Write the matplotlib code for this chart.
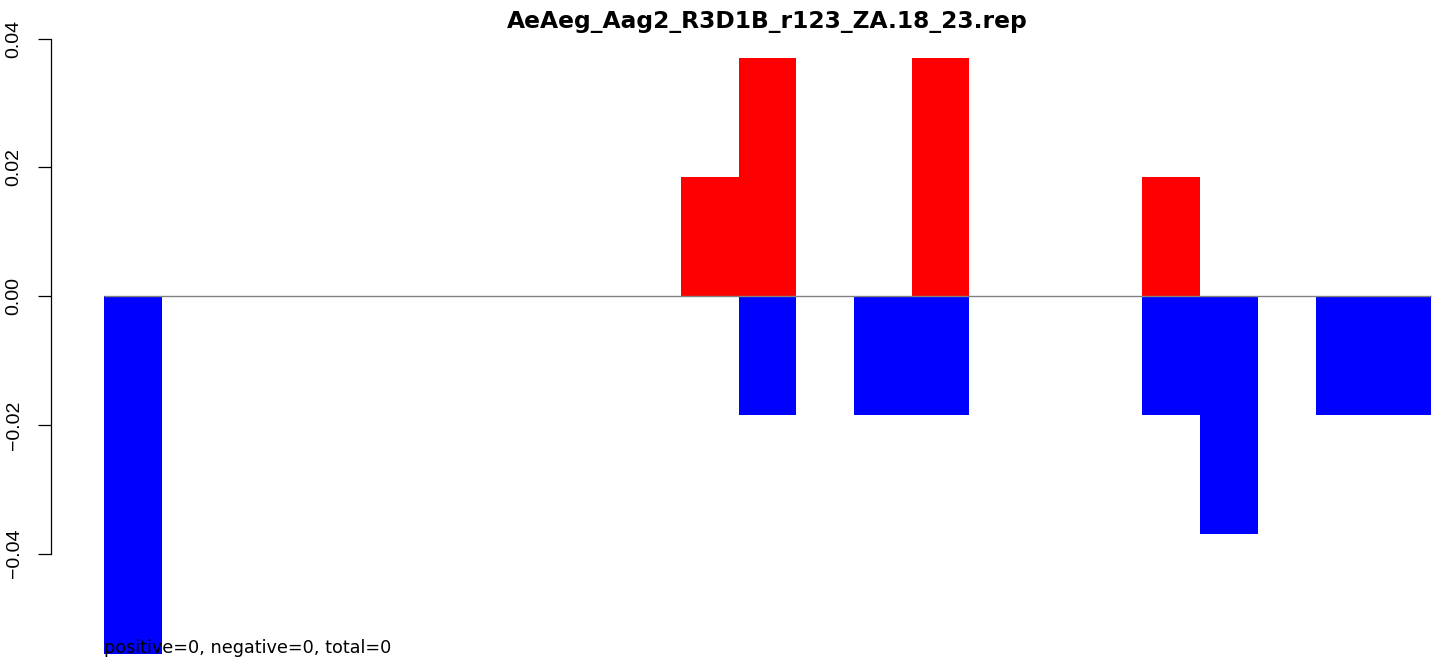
import matplotlib.pyplot as plt
import numpy as np

plt.rcParams['font.family'] = ['Liberation Sans', 'DejaVu Sans']

title = "AeAeg_Aag2_R3D1B_r123_ZA.18_23.rep"
note = "positive=0, negative=0, total=0"

# one value per bin
positive = [0, 0, 0, 0, 0, 0, 0, 0, 0, 0, 0.0185, 0.037, 0, 0, 0.037,
            0, 0, 0, 0.0185, 0, 0, 0, 0]
negative = [-0.0556, 0, 0, 0, 0, 0, 0, 0, 0, 0, 0, -0.0185, 0, -0.0185, -0.0185,
            0, 0, 0, -0.0185, -0.037, 0, -0.0185, -0.0185]
yticks = [-0.04, -0.02, 0.00, 0.02, 0.04]
ytick_labels = ["\u22120.04", "\u22120.02", "0.00", "0.02", "0.04"]

W, H = 1450, 666
fig = plt.figure(figsize=(W / 100, H / 100), dpi=100)
# R-style plot region, it runs past the right and bottom edges of the device
ax = fig.add_axes([51 / W, (666 - 678) / H, 1433 / W, 644 / H])

n = len(positive)
x = np.arange(n)
ax.bar(x, positive, width=1, align='edge', color='red', linewidth=0)
ax.bar(x, negative, width=1, align='edge', color='blue', linewidth=0)
ax.hlines(0, 0, n, color='#808080', linewidth=1)

ymin, ymax = min(negative), max(positive)
r = ymax - ymin
ax.set_xlim(-0.04 * n, n + 0.04 * n)
ax.set_ylim(ymin - 0.04 * r, ymax + 0.04 * r)

for s in ['top', 'right', 'bottom']:
    ax.spines[s].set_visible(False)
ax.spines['left'].set_bounds(-0.04, 0.04)
ax.spines['left'].set_linewidth(0.9)
ax.set_xticks([])
ax.set_yticks(yticks)
ax.set_yticklabels(ytick_labels, rotation=90, va='center', fontsize=14)
ax.tick_params(axis='y', length=9.4, width=0.9, pad=11)

# the reference text is stretched sideways, the wider DejaVu face is closer
ax.set_title(title, fontsize=16.8, fontweight='bold', pad=4, family='DejaVu Sans')
ax.text(0, -0.0554, note, fontsize=12.7, ha='left', va='baseline',
        family='DejaVu Sans')

fig.savefig('out.png', dpi=100)
